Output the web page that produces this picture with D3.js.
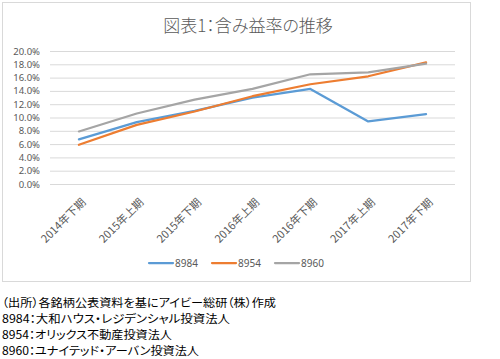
<!DOCTYPE html>
<html>
<head>
<meta charset="utf-8">
<script src="https://cdn.jsdelivr.net/npm/d3@7"></script>
<style>
  html, body { margin: 0; padding: 0; background: #fff; }
  svg { display: block; }
  .cjk { font-family: "Noto Sans CJK JP", sans-serif; font-feature-settings: "palt"; }
</style>
</head>
<body>
<div id="chart"></div>
<script>
const categories = ["2014年下期", "2015年上期", "2015年下期", "2016年上期", "2016年下期", "2017年上期", "2017年下期"];
const series8984 = [6.7, 9.3, 11.0, 13.0, 14.3, 9.4, 10.5];
const series8954 = [5.9, 8.9, 10.9, 13.2, 15.0, 16.2, 18.3];
const series8960 = [7.9, 10.6, 12.7, 14.3, 16.5, 16.8, 18.1];
const seriesNames = ["8984", "8954", "8960"];
const yTicks = [0, 2, 4, 6, 8, 10, 12, 14, 16, 18, 20];
const titleText = "図表1：含み益率の推移";
const noteLines = [
  "（出所）各銘柄公表資料を基にアイビー総研（株）作成",
  "8984：大和ハウス・レジデンシャル投資法人",
  "8954：オリックス不動産投資法人",
  "8960：ユナイテッド・アーバン投資法人"
];

const W = 500, H = 359;
const colors = ["#5b9bd5", "#ed7d31", "#a5a5a5"];
const allSeries = [series8984, series8954, series8960];

const svg = d3.select("#chart").append("svg").attr("width", W).attr("height", H);
svg.append("rect").attr("width", W).attr("height", H).attr("fill", "#fff");

// chart frame
svg.append("rect").attr("x", 2.5).attr("y", 2.5).attr("width", 468).attr("height", 279)
  .attr("fill", "none").attr("stroke", "#d9d9d9").attr("stroke-width", 1);

const x = d3.scalePoint().domain(categories).range([50, 455]).padding(0.5);
const y = d3.scaleLinear().domain([0, 20]).range([184, 51]);

// title
svg.append("text").attr("class", "cjk").attr("x", 248).attr("y", 32)
  .attr("text-anchor", "middle").attr("font-size", 17).attr("font-weight", 300)
  .attr("fill", "#595959").text(titleText);

// y axis with gridlines
const yAxis = d3.axisLeft(y).tickValues(yTicks).tickSize(-405).tickPadding(10)
  .tickFormat(d => d.toFixed(1) + "%");
const gy = svg.append("g").attr("transform", "translate(50,0)").call(yAxis);
gy.select(".domain").remove();
gy.selectAll(".tick line").attr("stroke", "#d9d9d9").attr("stroke-width", 1);
gy.selectAll(".tick text").attr("fill", "#595959").attr("font-size", 9.5)
  .attr("font-family", "'Noto Sans', sans-serif").attr("x", -10);

// x axis labels
const xAxis = d3.axisBottom(x).tickSize(0).tickPadding(0);
const gx = svg.append("g").attr("transform", "translate(0,184)").call(xAxis);
gx.select(".domain").remove();
gx.selectAll(".tick text")
  .attr("class", "cjk")
  .attr("fill", "#595959").attr("font-size", 11)
  .attr("text-anchor", "end")
  .attr("dy", 0)
  .attr("y", 0)
  .attr("transform", "translate(7,19) rotate(-45)");

// lines
const line = d3.line().x((d, i) => x(categories[i])).y(d => y(d));
allSeries.forEach((s, k) => {
  svg.append("path").datum(s).attr("d", line).attr("fill", "none")
    .attr("stroke", colors[k]).attr("stroke-width", 2.25)
    .attr("stroke-linejoin", "round").attr("stroke-linecap", "round");
});

// legend
const legendX = [149, 212, 275];
seriesNames.forEach((n, k) => {
  const g = svg.append("g").attr("transform", `translate(${legendX[k]},263)`);
  g.append("line").attr("x1", 0).attr("x2", 24).attr("y1", 0).attr("y2", 0)
    .attr("stroke", colors[k]).attr("stroke-width", 2.25).attr("stroke-linecap", "round");
  g.append("text").attr("x", 26).attr("y", 4).attr("font-size", 10)
    .attr("font-family", "'Noto Sans', sans-serif").attr("fill", "#595959").text(n);
});

// notes
const noteWidths = [274, 228, 170, 197];
noteLines.forEach((t, i) => {
  svg.append("text").attr("class", "cjk").attr("x", 2).attr("y", 307 + i * 16)
    .attr("font-size", 11.5).attr("fill", "#000")
    .attr("textLength", noteWidths[i]).attr("lengthAdjust", "spacingAndGlyphs")
    .text(t);
});
</script>
</body>
</html>
